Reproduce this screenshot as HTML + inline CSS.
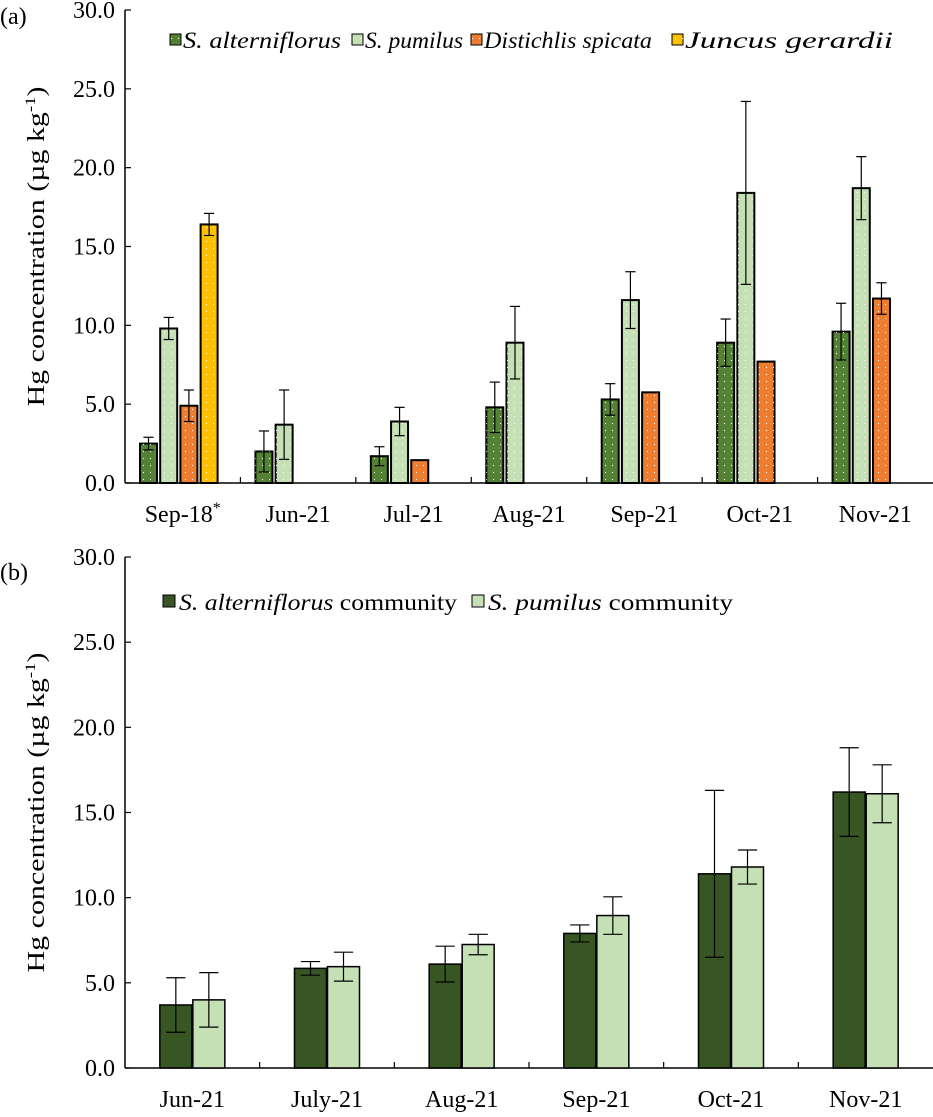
<!DOCTYPE html>
<html><head><meta charset="utf-8"><style>
body{margin:0;background:#fff}
svg text{font-family:"Liberation Serif","Times New Roman",serif;fill:#000}
</style></head><body>
<svg id="s" width="933" height="1112" xmlns="http://www.w3.org/2000/svg">
<defs>
<pattern id="dots" width="7" height="7" patternUnits="userSpaceOnUse"><circle cx="3.5" cy="3.5" r="0.6" fill="#fff"/></pattern>
</defs>
<g id="a"></g>
<g id="b"></g>
</svg>
<script>
const catsA=["Sep-18","Jun-21","Jul-21","Aug-21","Sep-21","Oct-21","Nov-21"];
const seriesNamesA=["S. alterniflorus","S. pumilus","Distichlis spicata","Juncus gerardii"];
const altA=[2.5,2.0,1.7,4.8,5.3,8.9,9.6];
const altErrA=[0.4,1.3,0.6,1.6,1.0,1.5,1.8];
const pumA=[9.8,3.7,3.9,8.9,11.6,18.4,18.7];
const pumErrA=[0.7,2.2,0.9,2.3,1.8,5.8,2.0];
const disA=[4.9,null,1.45,null,5.75,7.7,11.7];
const disErrA=[1.0,null,0,null,0,0,1.0];
const junA=[16.4,null,null,null,null,null,null];
const junErrA=[0.7,null,null,null,null,null,null];
const ticksY=["0.0","5.0","10.0","15.0","20.0","25.0","30.0"];
const catsB=["Jun-21","July-21","Aug-21","Sep-21","Oct-21","Nov-21"];
const altB=[3.7,5.85,6.1,7.9,11.4,16.2];
const altErrB=[1.6,0.4,1.05,0.5,4.9,2.6];
const pumB=[4.0,5.95,7.25,8.95,11.8,16.1];
const pumErrB=[1.6,0.85,0.6,1.1,1.0,1.7];

const NS="http://www.w3.org/2000/svg";
function mk(p,t,a){const e=document.createElementNS(NS,t);for(const k in a)e.setAttribute(k,a[k]);p.appendChild(e);return e;}

function axes(g,x0,x1,y0,y1,ncat,cats){
  const yS=v=>y0-(y0-y1)*v/30;
  let l=mk(g,'line',{x1:x0,y1:y1,x2:x0,y2:y0,stroke:'#000','stroke-width':1.5});
  
  l=mk(g,'line',{x1:x0,y1:y0,x2:x1,y2:y0,stroke:'#000','stroke-width':1.5});
  
  ticksY.forEach((t,i)=>{const y=yS(i*5);
    mk(g,'line',{x1:x0,y1:y,x2:x0+6,y2:y,stroke:'#000','stroke-width':1.2});
    const tx=mk(g,'text',{x:x0-10,y:y+8,'text-anchor':'end','font-size':24});tx.textContent=t;
    });
  const bw=(x1-x0)/ncat;
  for(let i=1;i<ncat;i++)mk(g,'line',{x1:x0+bw*i,y1:y0,x2:x0+bw*i,y2:y0-6,stroke:'#000','stroke-width':1.2});
  cats.forEach((c,i)=>{const tx=mk(g,'text',{x:x0+bw*(i+0.5),y:y0+39,'text-anchor':'middle','font-size':24});tx.textContent=c;
    
    if(c==="Sep-18"){const s=mk(tx,'tspan',{dy:-9,'font-size':16});s.textContent='*';}});
  const yt=mk(g,'text',{transform:`translate(44,${(y0+y1)/2}) rotate(-90)`,'text-anchor':'middle','font-size':24,textLength:320,lengthAdjust:'spacingAndGlyphs'});
  
  yt.appendChild(document.createTextNode('Hg concentration (µg kg'));
  const sp=mk(yt,'tspan',{dy:-9,'font-size':15});sp.textContent='-1';
  const sp2=mk(yt,'tspan',{dy:9});sp2.textContent=')';
  return {yS,bw};
}
function bar(g,x,w,v,err,y0,yS,fill,dots,name,sw){
  if(v==null)return;
  const r=mk(g,'rect',{x:x,y:yS(v),width:w,height:y0-yS(v),fill:fill,stroke:'#000','stroke-width':sw});
  
  if(dots)mk(g,'rect',{x:x,y:yS(v),width:w,height:y0-yS(v),fill:'url(#dots)'});
  if(err){const cx=x+w/2,c=w*0.3;
    mk(g,'line',{x1:cx,y1:yS(v+err),x2:cx,y2:yS(v-err),stroke:'#000','stroke-width':1.2});
    mk(g,'line',{x1:cx-c,y1:yS(v+err),x2:cx+c,y2:yS(v+err),stroke:'#000','stroke-width':1.2});
    mk(g,'line',{x1:cx-c,y1:yS(v-err),x2:cx+c,y2:yS(v-err),stroke:'#000','stroke-width':1.2});}
}
// panel a
const ga=document.getElementById('a');
let t=mk(ga,'text',{x:0,y:24,'font-size':24});t.textContent='(a)';

const A=axes(ga,125,933,483,10,7,catsA);
const colA=['#548235','#c5e0b4','#ed7d31','#ffc000'];
const dataA=[[altA,altErrA],[pumA,pumErrA],[disA,disErrA],[junA,junErrA]];
catsA.forEach((c,i)=>{dataA.forEach((d,s)=>{
  bar(ga,125+A.bw*i+15+s*20.2,17,d[0][i],d[1][i],483,A.yS,colA[s],true,'bar-a-s'+s+'-'+i,2);});});
const legA=[170,352,471,672];
const legW=[158,98,168,208];
seriesNamesA.forEach((n,s)=>{const lg=mk(ga,'g',{});
  
  mk(lg,'rect',{x:legA[s],y:34,width:11,height:11,fill:colA[s],stroke:'#000','stroke-width':1});
  mk(lg,'rect',{x:legA[s],y:34,width:11,height:11,fill:'url(#dots)'});
  const tx=mk(lg,'text',{x:legA[s]+13,y:48,'font-size':23,'font-style':'italic',textLength:legW[s],lengthAdjust:'spacingAndGlyphs'});tx.textContent=n;});
// panel b
const gb=document.getElementById('b');
t=mk(gb,'text',{x:0,y:580,'font-size':24});t.textContent='(b)';

const B=axes(gb,125,933,1068,557,6,catsB);
const colB=['#375623','#c5e0b4'];
catsB.forEach((c,i)=>{const cx=125+B.bw*(i+0.5);
  bar(gb,cx-32.5,32,altB[i],altErrB[i],1068,B.yS,colB[0],false,'bar-b-alt-'+i,1.5);
  bar(gb,cx+0.5,32,pumB[i],pumErrB[i],1068,B.yS,colB[1],false,'bar-b-pum-'+i,1.5);});
[[163,'S. alterniflorus',' community',278],[472,'S. pumilus',' community',245]].forEach((e,s)=>{
  const lg=mk(gb,'g',{});
  
  mk(lg,'rect',{x:e[0],y:595,width:12,height:12,fill:colB[s],stroke:'#000','stroke-width':1});
  const tx=mk(lg,'text',{x:e[0]+16,y:610,'font-size':23,textLength:e[3],lengthAdjust:'spacingAndGlyphs'});
  const i1=mk(tx,'tspan',{'font-style':'italic'});i1.textContent=e[1];
  tx.appendChild(document.createTextNode(e[2]));});
</script>
</body></html>
